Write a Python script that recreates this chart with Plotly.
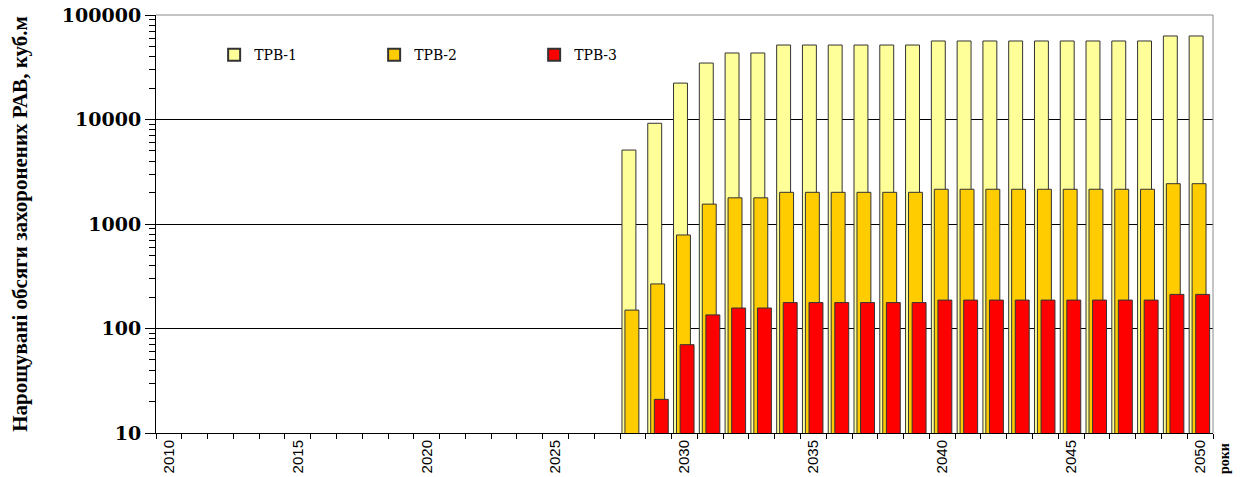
import plotly.graph_objects as go

# Years on the category axis
years = list(range(2010, 2051))

# Cumulative disposed volumes, m3 (no disposal before 2028)
trb1 = [None, None, None, None, None, None, None, None, None, None,
        None, None, None, None, None, None, None, None,
        5100, 9200, 22300, 34700, 43300, 43300,
        51600, 51600, 51600, 51600, 51600, 51600,
        56400, 56400, 56400, 56400, 56400, 56400, 56400, 56400, 56400,
        63000, 63000]
trb2 = [None, None, None, None, None, None, None, None, None, None,
        None, None, None, None, None, None, None, None,
        150, 267, 785, 1550, 1780, 1780,
        2010, 2010, 2010, 2010, 2010, 2010,
        2150, 2150, 2150, 2150, 2150, 2150, 2150, 2150, 2150,
        2430, 2430]
trb3 = [None, None, None, None, None, None, None, None, None, None,
        None, None, None, None, None, None, None, None,
        None, 21, 70, 135, 157, 157,
        177, 177, 177, 177, 177, 177,
        187, 187, 187, 187, 187, 187, 187, 187, 187,
        212, 212]

series_names = ["ТРВ-1", "ТРВ-2", "ТРВ-3"]
series_colors = ["#FFFF99", "#FFCC00", "#FF0000"]
series_offsets = [-0.425, -0.31, -0.17]

x_label_years = [2010, 2015, 2020, 2025, 2030, 2035, 2040, 2045, 2050]
y_tick_vals = [10, 100, 1000, 10000, 100000]
y_tick_text = ["10", "100", "1000", "10000", "100000"]

fig = go.Figure()
for name, vals, color, off in zip(series_names, [trb1, trb2, trb3],
                                  series_colors, series_offsets):
    fig.add_trace(go.Bar(
        x=years, y=vals, name=name,
        marker=dict(color=color, line=dict(color="#333333", width=1)),
        width=0.54, offset=off,
    ))

minor_y = [m * 10 ** k for k in range(1, 5) for m in range(2, 10)]
minor_x = [y - 0.5 for y in years] + [years[-1] + 0.5]

fig.update_layout(
    width=1247, height=477,
    margin=dict(l=156, r=34, t=15, b=44),
    barmode="overlay",
    plot_bgcolor="white", paper_bgcolor="white",
    showlegend=True,
    legend=dict(
        orientation="h", x=0.055, y=0.904, xanchor="left", yanchor="middle",
        font=dict(family="DejaVu Serif", size=14, color="black"),
        entrywidth=115, bgcolor="rgba(0,0,0,0)", itemsizing="constant",
    ),
    xaxis=dict(
        range=[2009.5, 2050.5],
        tickmode="array", tickvals=x_label_years,
        ticktext=[str(v) for v in x_label_years],
        ticks="", tickangle=-90,
        tickfont=dict(family="Liberation Sans, Arial", size=15, color="black"),
        showline=True, linecolor="black", linewidth=1,
        showgrid=False, zeroline=False,
        minor=dict(tickmode="array", tickvals=minor_x, ticks="outside",
                   ticklen=5, tickcolor="black", showgrid=False),
        automargin=False,
    ),
    yaxis=dict(
        type="log", range=[1, 5],
        tickmode="array", tickvals=y_tick_vals, ticktext=y_tick_text,
        ticks="outside", ticklen=10, tickcolor="black",
        tickfont=dict(family="DejaVu Serif", size=19, color="black",
                      weight="bold"),
        showline=True, linecolor="black", linewidth=1,
        showgrid=True, gridcolor="black", gridwidth=1, zeroline=False,
        minor=dict(tickmode="array", tickvals=minor_y, ticks="outside",
                   ticklen=6, tickcolor="black", showgrid=False),
        title=dict(text="Нарощувані обсяги захоронених РАВ, куб.м",
                   font=dict(family="Liberation Serif, Times New Roman",
                             size=21, color="black", weight="bold"),
                   standoff=28),
        automargin=False,
    ),
    shapes=[
        dict(type="line", xref="paper", yref="paper", x0=0, x1=1, y0=1, y1=1,
             line=dict(color="#8a8a8a", width=1), layer="above"),
        dict(type="line", xref="paper", yref="paper", x0=1, x1=1, y0=0, y1=1,
             line=dict(color="#8a8a8a", width=1), layer="above"),
    ],
    annotations=[
        dict(text="роки", xref="paper", yref="paper", x=1.0, y=0,
             xanchor="left", yanchor="top", xshift=2, yshift=-8,
             textangle=-90, showarrow=False,
             font=dict(family="Liberation Serif, Times New Roman", size=14,
                       color="black", weight="bold")),
    ],
)

fig.write_html("out.html")
